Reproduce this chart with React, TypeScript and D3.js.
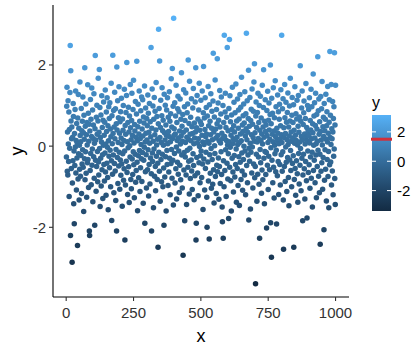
import React from "react";
import * as d3 from "d3";

// y values for x = 1..1000 (rows of 20)
const yValues: number[] = [
  -0.27, 0.98, 1.45, -0.62, 0.35, -0.71, 1.12, 0.05, -0.38, 0.84, -1.24, 0.41, -0.05, 1.32, 2.48, -2.2, 1.86, 0.62, -0.55, 0.18,
  0.47, -2.86, -0.91, 0.22, -0.36, 1.05, 0.73, -1.42, -0.12, -1.91, 0.31, -0.48, 0.9, -0.02, 1.36, -0.66, 0.14, -1.08, 0.56, -0.29,
  0.08, -2.45, 0.69, -0.81, 1.27, -0.19, 0.44, -1.33, 0.02, -0.57, 1.58, 0.26, -0.74, 0.11, -0.23, 0.93, -1.17, 0.38, -0.44, 0.61,
  -0.09, 1.21, -0.52, 0.33, -1.61, 0.76, 0.17, -0.31, 1.93, -0.83, 0.49, -0.14, 1.04, -0.67, 0.28, -1.26, 0.58, 0.03, -0.41, 1.51,
  -0.33, 0.81, -1.02, 0.12, 0.54, -2.09, -2.2, 0.37, -0.6, 1.15, -0.18, 0.66, -0.95, 0.24, 1.43, -0.47, -0.07, 0.89, -1.37, 0.19,
  0.52, -0.26, 1.29, -0.79, 0.07, -1.95, 0.43, 2.23, -0.35, 0.15, -1.11, 0.71, -0.5, 1.01, 0.29, -0.13, -0.88, 0.62, 1.67, -0.39,
  -0.71, 0.34, 1.89, -0.06, 0.95, -1.49, 0.21, -0.3, 0.77, -0.98, 0.1, 1.24, -0.58, 0.46, -0.21, -1.29, 0.64, 0.02, 1.09, -0.45,
  0.27, -0.86, 0.59, -0.17, 1.38, -0.64, 0.05, -1.21, 0.84, 0.36, -0.42, 1.19, -0.03, -0.77, 0.5, -1.57, 0.13, 0.97, -0.25, 0.68,
  -0.53, 1.07, -0.1, 0.42, -1.0, 0.23, 1.55, -0.36, -1.83, 0.75, 0.06, -0.69, 2.24, 0.31, -0.22, 0.88, -1.15, 0.47, -0.43, 1.33,
  0.18, -0.61, 0.92, -1.34, -0.08, 0.55, -2.09, 1.95, 0.4, -0.28, 1.12, -0.92, 0.09, 0.7, -0.49, 1.46, -0.15, 0.32, -1.06, 0.6,
  -0.34, 0.85, -0.72, 0.2, 1.18, -0.44, 0.04, -1.48, 0.67, -0.19, 0.39, 1.0, -0.84, 0.14, -0.56, 1.4, -0.12, -2.31, 0.51, -0.96,
  0.29, 0.83, -0.37, 1.25, 2.06, -0.65, 0.11, -1.19, 0.58, -0.04, 0.96, -0.51, 0.35, -1.39, 0.74, 0.01, -0.27, 1.52, 0.45, -0.82,
  0.16, -1.05, 0.63, 1.3, -0.32, 0.26, -0.7, 0.9, -0.14, 1.62, -0.46, 0.08, -1.27, 0.53, 0.37, -0.2, 1.1, -0.89, 0.22, -0.6,
  0.79, 2.09, -0.4, 0.13, -1.59, 0.48, 1.03, -0.24, -0.78, 0.3, 1.36, -0.11, 0.61, -1.12, 0.19, -0.53, 0.87, 0.04, -0.31, 1.21,
  -0.87, 0.42, -0.16, 1.14, 0.25, -1.41, 0.72, -0.35, 0.57, -0.03, 1.48, -1.9, 0.1, -0.63, 0.94, 0.32, -0.21, -1.03, 0.68, 0.15,
  0.5, -0.58, 1.26, -0.09, 0.81, -1.23, 0.34, -0.45, 1.05, 0.07, -0.93, 0.6, -0.29, 0.23, 2.43, -0.68, -2.09, 0.44, 1.41, -0.17,
  -0.38, 0.99, 0.12, -1.52, 0.66, -0.07, 1.2, -0.74, 0.28, 0.86, -0.5, -1.1, 0.4, 1.57, -0.25, 0.03, 0.73, -0.82, 0.17, -0.42,
  -2.49, 0.55, 2.88, -0.15, 0.93, -0.62, 2.1, 0.21, -1.36, 0.46, 1.13, -0.33, 0.09, -0.88, 0.75, 1.44, -0.2, 0.38, -1.0, 0.64,
  0.02, -0.54, -1.95, 1.28, 0.33, -0.76, 0.15, 1.01, -0.26, 0.52, -1.6, 0.27, 0.89, -0.11, -0.45, 1.19, 0.06, -0.97, 0.71, 0.36,
  -0.64, 0.24, 1.34, -0.3, 0.61, -1.2, 0.11, 0.8, -0.43, 1.66, -0.08, 0.47, -0.79, 1.91, 0.19, -0.35, 0.98, -1.45, 3.15, 0.26,
  0.43, -0.18, 1.07, -0.91, 0.3, 0.74, -0.56, 1.5, -0.02, -1.3, 0.58, 0.14, -0.4, 0.92, 1.23, -0.69, 0.2, -0.12, 0.85, -1.14,
  0.37, -0.47, 1.16, 0.05, -0.83, 0.66, 0.25, 1.81, -0.22, 0.49, -1.03, 0.12, 0.78, -2.69, 0.34, 1.39, -0.59, -0.16, 0.97, -1.84,
  0.63, -0.27, 0.09, 1.31, -0.71, 0.4, -1.44, 0.22, 0.82, -0.1, 1.04, -0.52, 2.12, 0.17, -0.37, 0.56, -1.18, 1.6, -0.05, 0.29,
  -0.8, 0.71, 0.13, -0.34, 1.17, -0.61, 0.48, -1.07, 0.31, 0.94, -0.19, 1.42, -0.48, 0.06, -1.32, 0.57, 0.2, -0.73, 1.09, 0.35,
  1.93, -2.31, -1.9, 0.45, -0.28, 1.25, 0.08, -0.66, 0.67, -1.22, 0.18, 0.89, -0.41, 1.55, -0.01, 0.39, -0.9, 0.6, -0.24, 1.13,
  -0.12, 0.53, -0.77, 0.27, 1.36, -0.44, 0.1, -1.56, 0.82, 1.96, -0.32, 0.04, 0.69, -1.08, 0.41, 1.19, -0.55, 0.23, -0.15, 0.95,
  0.3, -1.26, -2.0, 0.74, 0.12, -0.39, 1.47, -0.86, 0.5, 0.07, -2.29, 1.02, -0.21, 0.61, -0.67, 0.28, 1.29, -0.06, -1.04, 0.44,
  0.86, -0.33, 0.16, -0.94, 1.11, 2.29, -0.58, 0.35, -1.4, 0.72, 0.01, -0.18, 1.63, -0.75, 0.42, 0.2, -1.17, 0.9, -0.47, 0.55,
  2.15, -0.63, 0.26, 1.06, -0.29, 0.64, -1.31, 0.13, -0.5, 1.37, 0.47, -0.92, 0.08, 0.79, -0.14, 1.21, -0.7, 0.32, -1.5, -1.86,
  0.19, 1.0, -2.27, -0.36, 0.58, -1.0, 2.73, 0.24, -0.6, 0.84, 1.3, -0.09, 0.46, -1.24, 0.14, 0.71, -0.42, 2.43, 0.03, -0.81,
  0.38, -0.19, -1.78, 0.93, 0.11, 2.63, -0.52, 1.24, -0.03, 0.6, -0.85, 0.27, -1.6, 0.77, 0.41, -0.3, 1.45, 0.06, -0.64, 0.18,
  -1.13, 0.5, 1.08, -0.23, 0.35, -0.76, 0.82, 0.15, -0.45, 1.53, -0.07, -1.38, 0.62, 0.22, -0.55, 1.16, 0.04, -0.97, 0.44, 0.89,
  -0.26, 0.67, -1.46, 0.09, 1.27, -0.4, 0.3, 0.96, -0.82, 0.13, 1.7, -0.17, -0.61, 0.52, -1.09, 0.36, 0.75, -0.33, 1.04, 0.0,
  0.57, -0.71, 1.34, -0.12, 0.25, -1.2, 0.8, 0.43, 2.78, -0.48, 0.16, 1.12, -0.9, 0.34, -0.22, 0.68, 1.87, -1.82, -0.05, 0.49,
  -0.37, 1.2, 0.07, -1.55, 0.63, -0.15, 0.91, 0.28, -0.66, 1.41, -0.02, 0.54, -1.03, 0.21, 0.86, -0.44, 1.58, 0.12, 2.03, -0.78,
  0.33, -0.5, -3.39, 0.74, 1.09, -0.2, 0.46, -1.36, 0.1, 0.83, -0.69, 1.3, 0.19, -0.27, 0.58, -0.94, 1.0, -2.27, 0.39, -0.08,
  1.23, -0.41, 0.14, 0.69, -1.16, 0.3, -0.59, 1.5, 0.05, -0.83, 0.47, 0.95, 1.88, -0.3, 0.22, -1.42, 0.61, -0.13, 1.14, 0.36,
  -0.7, 0.52, -0.16, -2.02, 0.88, 0.26, -0.47, 1.35, 0.09, -1.07, 0.64, -0.25, 1.06, 0.4, -0.58, 0.17, 0.78, 2.0, -1.89, -0.04,
  0.55, -2.74, 1.18, -0.35, 0.29, 0.81, -0.9, 0.11, 1.44, -0.52, 0.37, -1.28, 0.7, 0.02, -0.19, 1.61, 0.23, -0.63, 0.97, -0.1,
  -1.92, 0.44, 0.13, -0.73, 1.26, 0.32, -0.38, 0.85, -1.19, 0.06, 0.66, 1.03, -0.45, 0.18, -0.96, 0.5, 1.39, -0.21, 0.28, 2.73,
  0.09, -0.62, 0.92, -0.14, 1.17, -1.33, -2.54, 0.45, 0.21, -0.5, 1.52, 0.7, -0.87, 0.31, -0.02, 1.08, -0.4, 0.59, -1.12, 0.16,
  0.83, -0.28, 1.31, 0.04, -0.77, 0.47, -1.47, 0.25, 0.99, -0.34, 0.62, 1.67, -0.11, -0.6, 0.35, 0.12, -1.0, 0.76, 1.2, -0.43,
  0.2, 0.58, -0.24, 1.02, -2.49, 0.39, -0.82, 0.07, 1.46, -0.55, 0.27, -1.21, 0.8, 0.14, -0.36, 0.67, 1.13, -0.68, 0.03, -1.38,
  0.49, 1.25, -0.18, 0.34, -0.93, 0.72, 0.1, -0.47, 1.98, -0.06, 0.61, -1.1, 0.24, 0.94, -0.3, 1.36, 0.15, -1.84, -0.71, 0.53,
  -0.2, 0.82, 1.11, -0.56, 0.3, -1.3, 0.05, 0.68, -0.38, 1.54, 0.22, -0.85, 0.46, -1.77, 0.13, 1.0, -0.12, 0.37, -0.65, 0.9,
  0.27, -0.46, 1.19, 0.08, -1.04, 0.63, -0.27, 0.4, 1.4, -0.79, 0.18, 0.97, -0.15, -1.5, 0.55, 0.33, 1.78, -0.6, 0.02, 0.74,
  -0.35, 1.07, 0.2, -0.9, 0.51, 1.3, -0.22, 0.06, -1.27, 0.78, 0.42, -0.5, 0.12, 2.2, -0.1, 0.87, -0.74, 1.16, 0.29, -1.15,
  0.6, -0.2, -2.42, 0.36, 1.22, -0.62, 0.15, 0.92, -0.41, 1.59, 0.03, -1.06, 0.48, -0.28, 0.71, 0.24, -2.06, 1.05, -0.84, 0.38,
  -0.09, 0.66, -0.57, 1.28, 0.17, -1.35, 0.5, 0.85, -0.33, 0.1, 1.47, -0.75, 0.32, -0.13, -1.52, 0.59, 1.14, -0.46, 2.33, 0.21,
  0.76, -0.39, 0.04, 1.52, -0.96, 0.43, 0.18, -0.61, 1.1, 0.35, -1.2, 0.68, -0.25, 0.97, -0.07, 2.3, -0.8, 0.52, -1.44, 1.5,
];

const xTicks = [0, 250, 500, 750, 1000];
const yTicks = [-2, 0, 2];
const legendTicks = [-2, 0, 2];
const legendMarkerValue = 1.5;

const LOW = "#132B43";
const HIGH = "#56B1F7";
const FONT = "Arial, 'Liberation Sans', sans-serif";

export default function App() {
  const points = yValues.map((y, i) => ({ x: i + 1, y }));
  const yMin = d3.min(yValues) as number;
  const yMax = d3.max(yValues) as number;

  const panel = { left: 53, right: 349, top: 5, bottom: 297 };
  const xPad = (1000 - 1) * 0.05;
  const yPad = (yMax - yMin) * 0.05;
  const x = d3.scaleLinear().domain([1 - xPad, 1000 + xPad]).range([panel.left, panel.right]);
  const y = d3.scaleLinear().domain([yMin - yPad, yMax + yPad]).range([panel.bottom, panel.top]);
  const color = d3.scaleLinear<string>().domain([yMin, yMax]).range([LOW, HIGH]).interpolate(d3.interpolateLab);

  const bar = { x: 372, w: 19, top: 115, bottom: 211 };
  const ly = d3.scaleLinear().domain([yMin, yMax]).range([bar.bottom, bar.top]);
  const stops = d3.range(0, 21).map((i) => i / 20);

  return (
    <svg width={420} height={353} style={{ position: "absolute", left: 0, top: 0, background: "#fff" }}>
      <defs>
        <linearGradient id="cbar" x1="0" y1="1" x2="0" y2="0">
          {stops.map((t) => (
            <stop key={t} offset={t} stopColor={color(yMin + t * (yMax - yMin))} />
          ))}
        </linearGradient>
      </defs>
      <rect x={0} y={0} width={420} height={353} fill="#fff" />
      {points.map((p) => (
        <circle key={p.x} cx={x(p.x)} cy={y(p.y)} r={2.75} fill={color(p.y)} />
      ))}
      {/* axes */}
      <line x1={panel.left} x2={panel.left} y1={panel.top} y2={panel.bottom} stroke="#000" strokeWidth={1.1} />
      <line x1={panel.left} x2={panel.right} y1={panel.bottom} y2={panel.bottom} stroke="#000" strokeWidth={1.1} />
      {yTicks.map((t) => (
        <g key={t}>
          <line x1={panel.left - 4} x2={panel.left} y1={y(t)} y2={y(t)} stroke="#333" strokeWidth={1.1} />
          <text x={panel.left - 7} y={y(t)} dy="0.36em" textAnchor="end" fontSize={15} fontFamily={FONT} fill="#333">
            {t}
          </text>
        </g>
      ))}
      {xTicks.map((t) => (
        <g key={t}>
          <line x1={x(t)} x2={x(t)} y1={panel.bottom} y2={panel.bottom + 4} stroke="#333" strokeWidth={1.1} />
          <text x={x(t)} y={panel.bottom + 21} textAnchor="middle" fontSize={15} fontFamily={FONT} fill="#333">
            {t}
          </text>
        </g>
      ))}
      <text x={(panel.left + panel.right) / 2} y={342} textAnchor="middle" fontSize={18} fontFamily={FONT} fill="#000">
        x
      </text>
      <text
        transform={`translate(23,${(panel.top + panel.bottom) / 2}) rotate(-90)`}
        textAnchor="middle"
        fontSize={18}
        fontFamily={FONT}
        fill="#000"
      >
        y
      </text>
      {/* legend */}
      <text x={bar.x} y={108} fontSize={16} fontFamily={FONT} fill="#000">
        y
      </text>
      <rect x={bar.x} y={bar.top} width={bar.w} height={bar.bottom - bar.top} fill="url(#cbar)" />
      {legendTicks.map((t) => (
        <g key={t}>
          <line x1={bar.x} x2={bar.x + 4} y1={ly(t)} y2={ly(t)} stroke="#fff" strokeWidth={1} />
          <line x1={bar.x + bar.w - 4} x2={bar.x + bar.w} y1={ly(t)} y2={ly(t)} stroke="#fff" strokeWidth={1} />
          <text x={bar.x + bar.w + 6} y={ly(t)} dy="0.36em" fontSize={15} fontFamily={FONT} fill="#000">
            {t}
          </text>
        </g>
      ))}
      <line
        x1={bar.x - 1}
        x2={bar.x + bar.w + 1}
        y1={ly(legendMarkerValue)}
        y2={ly(legendMarkerValue)}
        stroke="#D12F3A"
        strokeWidth={3}
      />
    </svg>
  );
}
